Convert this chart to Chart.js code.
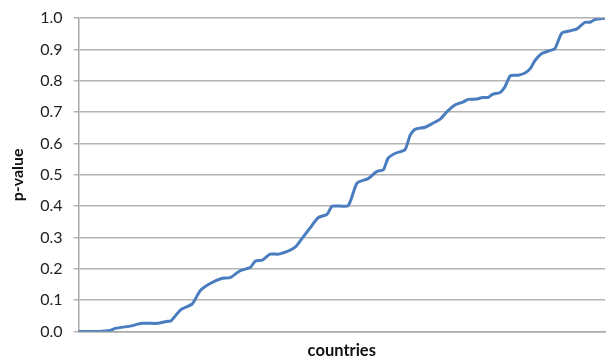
<!DOCTYPE html>
<html lang="en">
<head>
  <meta charset="UTF-8" />
  <title>p-value by country</title>
  <script src="https://cdn.jsdelivr.net/npm/chart.js"></script>
  <style>
    body { margin: 0; background: #ffffff; }
    #wrap { width: 607px; height: 359px; }
  </style>
</head>
<body>
  <div id="wrap"><canvas id="pChart"></canvas></div>

  <script>
    // countries ranked by p-value (rank along x, 0..100)
    const countryRank = [0, 4, 6, 7, 10, 12, 15, 17, 17.5, 19.4, 21.6, 23.1, 25, 27.3, 28.8, 30.7, 32.6, 33.6, 34.9, 36.4,
      38, 40.2, 41.2, 42.1, 44, 45.5, 47.2, 48.2, 51.2, 52.9, 55, 56.7, 57.9, 58.8, 60.2, 62, 63, 63.9, 65.8, 67.2,
      68.7, 70, 71.5, 73.1, 74, 75.7, 76.7, 77.8, 78.6, 80.1, 81, 82, 83.5, 84.8, 85.8, 86.7, 88, 89.6, 90.5, 91.8,
      93.4, 94.7, 96.2, 97.2, 98.1, 100];
    const pValue = [0, 0, 0.003, 0.01, 0.018, 0.026, 0.026, 0.033, 0.033, 0.069, 0.088, 0.13, 0.153, 0.17, 0.172, 0.194, 0.204, 0.225, 0.228, 0.247,
      0.247, 0.26, 0.27, 0.289, 0.331, 0.363, 0.374, 0.4, 0.402, 0.474, 0.488, 0.511, 0.516, 0.553, 0.569, 0.58, 0.627, 0.645, 0.652, 0.664,
      0.678, 0.702, 0.723, 0.733, 0.741, 0.742, 0.747, 0.747, 0.757, 0.763, 0.781, 0.816, 0.818, 0.825, 0.839, 0.865, 0.887, 0.897, 0.903, 0.953,
      0.96, 0.966, 0.987, 0.987, 0.996, 1.0];
    const yTicks = [0, 0.1, 0.2, 0.3, 0.4, 0.5, 0.6, 0.7, 0.8, 0.9, 1.0];

    const points = countryRank.map((r, i) => ({ x: r, y: pValue[i] }));
    const font = "Lato, 'Open Sans', sans-serif";

    new Chart(document.getElementById("pChart"), {
      type: "line",
      data: {
        datasets: [{
          label: "p-value",
          data: points,
          borderColor: "#4a7dbf",
          borderWidth: 3,
          pointRadius: 0,
          tension: 0.2,
          fill: false
        }]
      },
      options: {
        responsive: true,
        maintainAspectRatio: false,
        animation: false,
        layout: { padding: { top: 0, right: 2, left: 8, bottom: 0 } },
        plugins: {
          legend: { display: false },
          tooltip: { enabled: false }
        },
        scales: {
          x: {
            type: "linear",
            min: 0,
            max: 100,
            ticks: { display: false },
            grid: { display: false },
            border: { display: true, color: "#a8a8a8", width: 1.5 },
            title: {
              display: true,
              text: "countries",
              color: "#111",
              font: { family: font, size: 16.5, weight: "bold", lineHeight: 1 },
              padding: { top: 3, bottom: 0 }
            }
          },
          y: {
            min: 0,
            max: 1,
            afterBuildTicks: axis => { axis.ticks = yTicks.map(v => ({ value: v })); },
            ticks: {
              color: "#222",
              font: { family: font, size: 16, lineHeight: 0.9 },
              padding: 11,
              callback: v => Number(v).toFixed(1)
            },
            grid: { color: "#b4b4b4", lineWidth: 1.5, tickLength: 5 },
            border: { color: "#a8a8a8", width: 1.5 },
            title: {
              display: true,
              text: "p-value",
              color: "#111",
              font: { family: font, size: 16, weight: "bold" },
              padding: { top: 0, bottom: 2 }
            }
          }
        }
      }
    });
  </script>
</body>
</html>
